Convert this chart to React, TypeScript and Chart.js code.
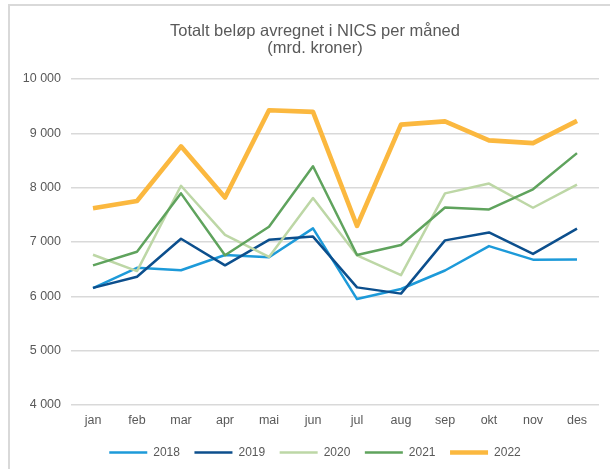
import React, { useEffect, useRef } from "react";
import { Chart, registerables } from "chart.js";

Chart.register(...registerables);

const months = ["jan", "feb", "mar", "apr", "mai", "jun", "jul", "aug", "sep", "okt", "nov", "des"];
const titleLines = ["Totalt beløp avregnet i NICS per måned", "(mrd. kroner)"];

const y2018 = [6150, 6525, 6480, 6760, 6720, 7250, 5950, 6135, 6475, 6925, 6675, 6680];
const y2019 = [6155, 6360, 7060, 6570, 7040, 7100, 6165, 6050, 7030, 7175, 6780, 7245];
const y2020 = [6765, 6465, 8035, 7130, 6725, 7810, 6755, 6390, 7895, 8075, 7630, 8055];
const y2021 = [6570, 6820, 7895, 6755, 7280, 8395, 6760, 6945, 7635, 7600, 7970, 8635];
const y2022 = [7620, 7755, 8760, 7820, 9425, 9395, 7295, 9160, 9220, 8870, 8820, 9230];

const yMin = 4000;
const yMax = 10000;
const yStep = 1000;

const FONT = "'Liberation Sans', Arial, sans-serif";
const TEXT = "#595959";
const GRID = "#d9d9d9";

// Title and legend are centred on the whole chart width (not the padded area), as in the original
const centreBlocks = {
  id: "centreBlocks",
  afterLayout(chart: any) {
    const blocks = [chart.titleBlock, chart.legend];
    blocks.forEach((b: any) => {
      if (!b) return;
      b.left = 0;
      b.right = chart.width;
      b.width = chart.width;
    });
  },
};

export default function App() {
  const ref = useRef<HTMLCanvasElement>(null);
  useEffect(() => {
    if (!ref.current) return;
    const series = [
      { label: "2018", data: y2018, color: "#1d9ad9", w: 2.5, order: 5 },
      { label: "2019", data: y2019, color: "#0c4f8d", w: 2.5, order: 4 },
      { label: "2020", data: y2020, color: "#bdd7a6", w: 2.5, order: 3 },
      { label: "2021", data: y2021, color: "#5fa35d", w: 2.5, order: 2 },
      { label: "2022", data: y2022, color: "#fbb83f", w: 4.6, order: 1 },
    ];
    const chart = new Chart(ref.current, {
      type: "line",
      data: {
        labels: months,
        datasets: series.map((s) => ({
          label: s.label,
          data: s.data,
          borderColor: s.color,
          backgroundColor: s.color,
          borderWidth: s.w,
          pointRadius: 0,
          pointHoverRadius: 0,
          tension: 0,
          order: s.order,
          borderJoinStyle: "round" as const,
        })),
      },
      options: {
        animation: false,
        responsive: false,
        maintainAspectRatio: false,
        layout: { padding: { left: 0, right: 21, top: 0, bottom: 7.5 } },
        plugins: {
          tooltip: { enabled: false },
          title: {
            display: true,
            text: titleLines,
            color: TEXT,
            font: { family: FONT, size: 16.5, weight: "normal", lineHeight: 1.03 },
            padding: { top: 17, bottom: 22 },
          },
          legend: {
            position: "bottom",
            labels: {
              color: TEXT,
              font: { family: FONT, size: 12 },
              usePointStyle: true,
              pointStyle: "line",
              pointStyleWidth: 38,
              padding: 14.5,
              sort: (a: any, b: any) => a.datasetIndex - b.datasetIndex,
            },
          },
        },
        scales: {
          x: {
            offset: true,
            afterFit: (scale: any) => {
              scale.height = 27;
            },
            grid: { display: false, drawTicks: false },
            border: { display: false },
            ticks: { color: TEXT, font: { family: FONT, size: 12.5 }, padding: 8.5, maxRotation: 0 },
          },
          y: {
            min: yMin,
            max: yMax,
            afterFit: (scale: any) => {
              scale.width = 61;
            },
            grid: { color: GRID, lineWidth: 1.5, drawTicks: false },
            border: { display: false },
            ticks: {
              stepSize: yStep,
              color: TEXT,
              padding: 10,
              font: { family: FONT, size: 12.5 },
              callback: (v: any) => String(v).replace(/\B(?=(\d{3})+(?!\d))/g, " "),
            },
          },
        },
      },
      plugins: [centreBlocks],
    });
    return () => chart.destroy();
  }, []);

  return (
    <div style={{ position: "fixed", left: 0, top: 0, width: 610, height: 469, overflow: "hidden", background: "#fff" }}>
      <div
        style={{
          position: "absolute",
          left: 8,
          top: 4,
          border: `2px solid ${GRID}`,
          width: 610,
          height: 470,
        }}
      >
        <canvas ref={ref} width={610} height={470} style={{ display: "block", width: 610, height: 470 }} />
      </div>
    </div>
  );
}
